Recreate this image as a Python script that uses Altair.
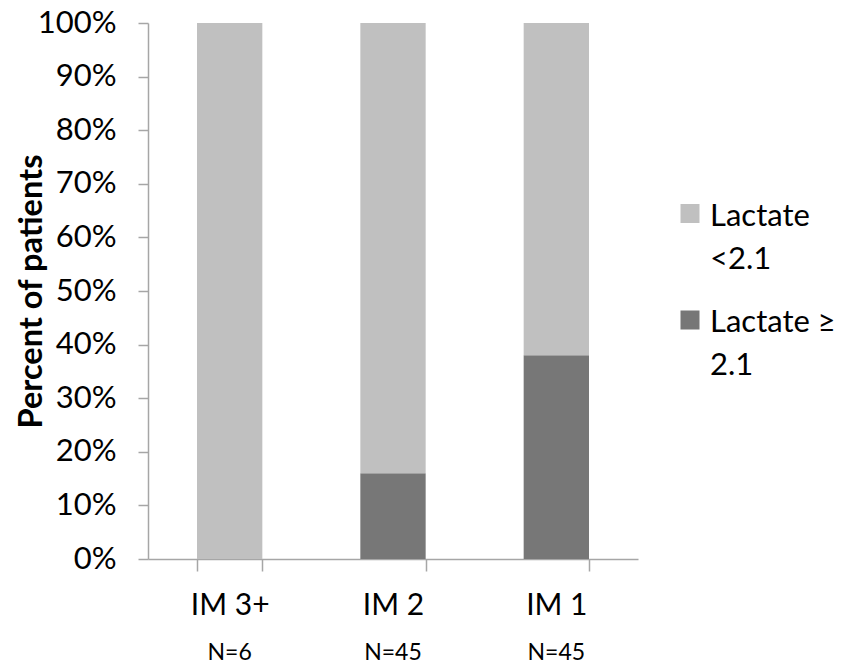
import altair as alt
import pandas as pd

# Intestinal metaplasia groups and the share of patients in each lactate band
groups = ["IM 3+", "IM 2", "IM 1"]
group_n = ["N=6", "N=45", "N=45"]
pct_lactate_low = [100, 84, 62]
pct_lactate_high = [0, 16, 38]

series_names = ["Lactate <2.1", "Lactate \u2265 2.1"]
legend_lines = ["Lactate\n<2.1", "Lactate \u2265\n2.1"]
series_colors = ["#C0C0C0", "#777777"]

FONT = "Lato"
AXIS_GREY = "#A6A6A6"

rows = []
for g, lo, hi in zip(groups, pct_lactate_low, pct_lactate_high):
    rows.append({"group": g, "series": series_names[1], "pct": hi, "stack_order": 0})
    rows.append({"group": g, "series": series_names[0], "pct": lo, "stack_order": 1})
bars_df = pd.DataFrame(rows)
n_df = pd.DataFrame({"group": groups, "n": group_n})

color_scale = alt.Scale(domain=series_names, range=series_colors)
x_enc = alt.X(
    "group:N",
    sort=groups,
    scale=alt.Scale(paddingInner=0.6, paddingOuter=0.3),
    axis=alt.Axis(
        title=None,
        labelAngle=0,
        labelFont=FONT,
        labelFontSize=30,
        labelColor="#000000",
        labelPadding=19,
        tickSize=12,
        tickBand="extent",
        domainColor=AXIS_GREY,
        tickColor=AXIS_GREY,
        domainWidth=1.5,
        tickWidth=1.5,
    ),
)

bars = alt.Chart(bars_df).mark_bar().encode(
    x=x_enc,
    y=alt.Y(
        "pct:Q",
        stack="zero",
        scale=alt.Scale(domain=[0, 100], nice=False),
        axis=alt.Axis(
            title="Percent of patients",
            titleFont=FONT,
            titleFontSize=32.5,
            titleFontWeight="bold",
            titleColor="#000000",
            titleAngle=270,
            titleX=-117,
            titleY=268,
            titleAlign="center",
            titleBaseline="middle",
            values=list(range(0, 101, 10)),
            labelExpr="datum.value + '%'",
            labelFont=FONT,
            labelFontSize=31,
            labelColor="#000000",
            labelPadding=22,
            tickSize=10,
            grid=False,
            domainColor=AXIS_GREY,
            tickColor=AXIS_GREY,
            domainWidth=1.5,
            tickWidth=1.5,
        ),
    ),
    color=alt.Color("series:N", scale=color_scale, legend=None),
    order=alt.Order("stack_order:Q", sort="ascending"),
)

# Sample sizes printed under each category label
n_text = alt.Chart(n_df).mark_text(
    font=FONT, fontSize=23, baseline="alphabetic", color="#000000"
).encode(
    x=alt.X("group:N", sort=groups),
    y=alt.value(637),
    text="n:N",
)

# Legend on the right, built from the same colour scale
legend_layers = []
for name, lines, sq_y, txt_y in zip(series_names, legend_lines, [190.5, 297], [179, 285]):
    entry = pd.DataFrame({"series": [name], "label": [lines]})
    legend_layers.append(
        alt.Chart(entry).mark_square(size=361, opacity=1).encode(
            x=alt.value(542),
            y=alt.value(sq_y),
            color=alt.Color("series:N", scale=color_scale, legend=None),
        )
    )
    legend_layers.append(
        alt.Chart(entry).mark_text(
            font=FONT, fontSize=31, align="left", baseline="top",
            lineBreak="\n", lineHeight=43, color="#000000",
        ).encode(
            x=alt.value(562),
            y=alt.value(txt_y),
            text="label:N",
        )
    )

chart = alt.layer(bars, n_text, *legend_layers).properties(
    width=490,
    height=536,
    autosize=alt.AutoSizeParams(type="none"),
    padding={"left": 148, "top": 23, "right": 203, "bottom": 108},
    background="#FFFFFF",
).configure_view(stroke=None)

chart.save("out.html", embed_options={"renderer": "svg", "actions": False})
